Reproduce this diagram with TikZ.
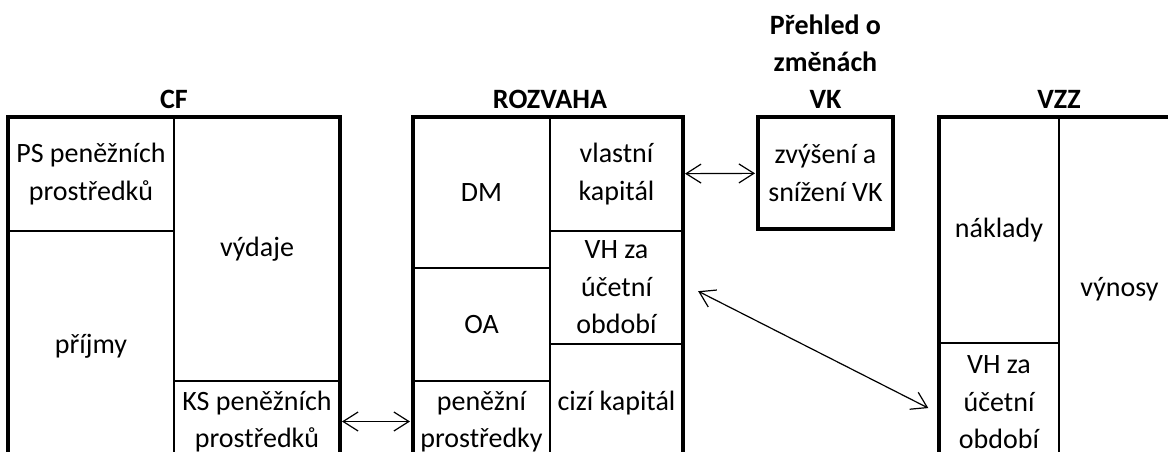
\documentclass[tikz,border=0pt]{standalone}
\usepackage{fontspec}
\setmainfont{Carlito}
\usetikzlibrary{arrows.meta,positioning}
\newcommand{\celltext}{\fontsize{28}{37.5}\selectfont}
\newcommand{\headtext}{\fontsize{28}{37}\selectfont\bfseries}

\begin{document}
\begin{tikzpicture}[x=1pt,y=-1pt,
    cell/.style={draw,line width=1.6pt,anchor=north west,inner sep=0pt,outer sep=0pt,align=center,font=\celltext},
    frame/.style={draw,line width=3.6pt},
    heading/.style={inner sep=0pt,align=center,font=\headtext},
    link/.style={<->,line width=1.2pt},
    >={Straight Barb[length=15pt,width=19pt]}]
    \useasboundingbox (0,0) rectangle (1168,452);
    \clip (0,0) rectangle (1168,452);
    % CF
    \node[cell,minimum width=166pt,minimum height=114pt] (ps) at (8,117) {PS peněžních\\prostředků};
    \node[cell,minimum width=166pt,minimum height=231pt] (prijmy) at (8,231) {příjmy};
    \node[cell,minimum width=166pt,minimum height=264pt] (vydaje) at (174,117) {výdaje};
    \node[cell,minimum width=166pt,minimum height=81pt] (ks) at (174,381) {KS peněžních\\prostředků};
    % ROZVAHA
    \node[cell,minimum width=137pt,minimum height=151pt] (dm) at (413,117) {DM};
    \node[cell,minimum width=137pt,minimum height=113pt] (oa) at (413,268) {OA};
    \node[cell,minimum width=137pt,minimum height=81pt] (penize) at (413,381) {peněžní\\prostředky};
    \node[cell,minimum width=133pt,minimum height=114pt] (vlk) at (550,117) {vlastní\\kapitál};
    \node[cell,minimum width=133pt,minimum height=113pt] (vhr) at (550,231) {VH za\\účetní\\období};
    \node[cell,minimum width=133pt,minimum height=118pt] (ck) at (550,344) {cizí kapitál};
    % VK
    \node[cell,minimum width=135pt,minimum height=112pt] (vk) at (758,117) {zvýšení a\\snížení VK};
    % VZZ
    \node[cell,minimum width=120pt,minimum height=226pt] (naklady) at (939,117) {náklady};
    \node[cell,minimum width=120pt,minimum height=119pt] (vhz) at (939,343) {VH za\\účetní\\období};
    \node[cell,minimum width=121pt,minimum height=345pt] (vynosy) at (1059,117) {výnosy};

    \draw[frame] (ps.north west) rectangle (ks.south east);
    \draw[frame] (dm.north west) rectangle (ck.south east);
    \draw[frame] (vk.north west) rectangle (vk.south east);
    \draw[frame] (naklady.north west) rectangle (vynosy.south east);

    \node[heading,above=8pt of ps.north east] (cf) {CF};
    \node[heading,above=8pt of dm.north east] (rozvaha) {ROZVAHA};
    \node[heading,above=8pt of vk.north] (prehled) {Přehled o\\změnách\\VK};
    \node[heading,above=8pt of naklady.north east] (vzz) {VZZ};

    \path[link,shorten <=2pt,shorten >=3pt]
        (ks) edge (penize)
        (vlk) edge (vk);
    \path[link,shorten <=17pt,shorten >=12pt]
        ([yshift=4pt]vhr.east) edge ([yshift=-11pt]vhz.west);
\end{tikzpicture}
\end{document}
